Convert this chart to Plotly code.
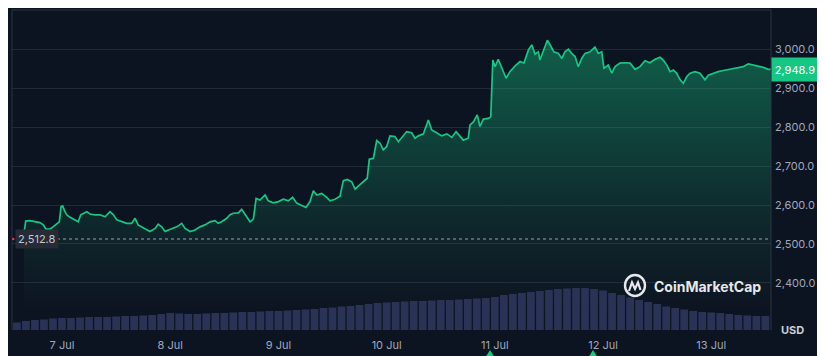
import pandas as pd
import plotly.graph_objects as go

BASE = pd.Timestamp("2025-07-07")

# ---- data ----
price_hours = [-8.4,-8.05,-7.1,-6.0,-4.9,-4.15,-3.55,-2.65,-1.95,-1.2,-0.6,-0.2,0.15,0.5,1.05,1.6,2.15,2.9,3.6,4.15,
               4.7,5.5,6.2,7.3,8.45,9.55,10.65,11.4,12.15,13.25,14.35,15.45,16.2,16.9,17.7,18.8,19.5,20.65,21.35,22.1,
               22.85,23.6,24.35,25.45,26.55,27.3,28.4,29.5,30.6,31.7,32.85,33.95,34.65,35.4,36.55,37.25,38.0,39.1,39.85,40.6,
               41.7,42.45,43.05,43.9,45.05,45.75,46.85,48.0,49.1,50.2,51.15,52.05,53.15,54.1,55.0,55.75,56.5,57.6,58.7,59.45,
               60.55,61.65,62.4,63.3,64.25,65.0,65.7,66.85,67.7,68.15,69.05,69.8,70.55,71.25,72.0,72.75,73.85,74.6,75.35,76.45,
               77.55,78.3,79.05,80.15,81.25,82.0,83.1,84.2,85.35,86.45,87.4,88.3,89.0,90.1,90.5,91.25,92.1,92.7,93.45,94.55,
               95.1,95.55,96.05,96.75,97.55,98.5,99.35,100.5,101.6,102.45,103.45,104.2,104.9,105.65,106.0,106.75,107.65,108.4,109.1,110.1,
               110.85,111.55,112.3,113.05,113.8,114.5,115.25,116.0,117.1,118.2,118.95,119.7,120.2,121.15,121.95,122.65,123.75,124.85,126.0,127.1,
               128.2,129.3,130.4,131.55,132.65,133.35,134.15,134.85,135.6,136.35,137.1,137.8,138.55,139.3,140.4,141.5,142.6,143.35,144.45,145.55,
               146.7,148.15,149.65,151.1,152.2,153.35,154.45,155.55,156.65,157.25]
price_usd = [2530,2559,2560,2557,2555,2549,2538,2538,2544,2551,2557,2596,2598,2587,2575,2570,2566,2562,2557,2575,
             2579,2583,2577,2575,2575,2570,2583,2575,2562,2557,2553,2553,2566,2549,2544,2536,2532,2540,2551,2544,
             2532,2536,2540,2544,2553,2540,2532,2536,2544,2549,2557,2560,2553,2557,2566,2575,2579,2580,2589,2575,
             2557,2564,2617,2613,2626,2611,2606,2609,2615,2611,2620,2605,2600,2594,2609,2637,2626,2630,2620,2611,
             2615,2623,2663,2666,2660,2641,2649,2660,2669,2718,2720,2766,2759,2742,2750,2778,2776,2763,2774,2789,
             2786,2772,2778,2783,2819,2793,2786,2778,2783,2774,2789,2776,2767,2772,2806,2814,2832,2802,2821,2823,
             2827,2973,2956,2975,2952,2926,2943,2958,2969,2965,2999,3012,2988,2994,2973,2997,3024,3009,2994,2990,
             2977,2994,3001,2990,2982,2956,2977,2990,2994,3006,2990,2994,2952,2960,2939,2956,2965,2966,2965,2949,
             2956,2971,2966,2975,2980,2973,2960,2943,2947,2939,2922,2913,2930,2939,2943,2939,2922,2934,2939,2943,
             2946,2949,2954,2956,2963,2960,2958,2954,2949,2948.9]

vol_hours = [-10,-8,-6,-4,-2,0,2,4,6,8,10,12,14,16,18,20,22,24,26,28,30,32,34,36,38,40,42,44,46,48,
             50,52,54,56,58,60,62,64,66,68,70,72,74,76,78,80,82,84,86,88,90,92,94,96,98,100,102,104,106,108,
             110,112,114,116,118,120,122,124,126,128,130,132,134,136,138,140,142,144,146,148,150,152,154,156]
vol_bn = [7.5,9,10,10.5,11.5,12,12,12.5,13,13,
          13,13.5,14,14,14.5,15,16,17,16.5,16,
          16,16.5,17,17,17.5,18,18,18.5,19,19,
          19.5,20,20.5,21,22,22.5,23.5,24,25,26,
          27,27.5,28,28.5,29,29,29.5,30,30,30.5,
          31,31.5,32,33,35,36,37,38,39,40,
          41,41.5,42,42,41,39.5,37,35,32.5,30,
          28,26,23.5,22,20.5,19,18,17.5,17,16,
          15,14.5,14,14]

tick_days = ["2025-07-07","2025-07-08","2025-07-09","2025-07-10","2025-07-11","2025-07-12","2025-07-13"]
tick_day_labels = ["7 Jul","8 Jul","9 Jul","10 Jul","11 Jul","12 Jul","13 Jul"]
price_ticks = [2400,2500,2600,2700,2800,2900,3000]
open_price = 2512.8
last_price = 2948.9

assert len(price_hours) == len(price_usd), (len(price_hours), len(price_usd))
assert len(vol_hours) == len(vol_bn)

t_price = BASE + pd.to_timedelta(price_hours, unit="h")
t_vol = BASE + pd.to_timedelta(vol_hours, unit="h")

BG = "#0d1421"
GREEN = "#16c784"
GRID = "#232a37"
FRAME = "#2e3543"
TXT = "#a1a7bb"

# page offset (default body margin of the html page)
OFF = 8
W, H = 825 - OFF, 356 - OFF
# plot area in page pixels
L, R, T, B = 12, 771, 10, 330
def px(x):
    return (x - L) / (R - L)
def py(y):
    return (B - y) / (B - T)

fig = go.Figure()

fig.add_trace(go.Bar(
    x=t_vol, y=vol_bn, yaxis="y2",
    marker=dict(color="#2a3256", line=dict(width=0)),
    width=2 * 3600 * 1000 * 0.86,
    hoverinfo="skip", showlegend=False,
))

fig.add_trace(go.Scatter(
    x=t_price, y=price_usd, mode="lines",
    line=dict(color=GREEN, width=1.7),
    fill="tozeroy",
    fillgradient=dict(type="vertical", start=2330, stop=3030,
                      colorscale=[[0, "rgba(22,199,132,0.0)"], [0.35, "rgba(22,199,132,0.12)"], [1, "rgba(22,199,132,0.42)"]]),
    showlegend=False,
))

x_start = BASE + pd.Timedelta(hours=-11.09)
x_end = BASE + pd.Timedelta(hours=157.25)

shapes = [
    dict(type="line", xref="paper", yref="paper", x0=0, x1=1, y0=1, y1=1, line=dict(color=FRAME, width=1)),
    dict(type="line", xref="paper", yref="paper", x0=0, x1=0, y0=0, y1=1, line=dict(color=FRAME, width=1)),
    dict(type="line", xref="paper", yref="paper", x0=1, x1=1, y0=0, y1=1, line=dict(color=FRAME, width=1)),
    dict(type="line", xref="paper", yref="y", x0=px(57), x1=1, y0=open_price, y1=open_price,
         line=dict(color="#9aa1ad", width=1, dash="dot")),
    dict(type="circle", xref="paper", yref="paper", x0=px(12), x1=px(14.5), y0=py(240.3), y1=py(237.8),
         fillcolor="#ea3943", line=dict(width=0)),
    # logo
    dict(type="circle", xref="paper", yref="paper", x0=px(625), x1=px(645), y0=py(296), y1=py(275),
         line=dict(color="#e6e8ec", width=2.4)),
    dict(type="path", xref="paper", yref="paper",
         path=f"M {px(629)},{py(291)} L {px(632)},{py(282.5)} L {px(635)},{py(289)} L {px(638)},{py(282.5)} L {px(640.5)},{py(290)}",
         line=dict(color="#e6e8ec", width=2.2)),
]
for tri_x in [490, 593]:
    shapes.append(dict(type="path", xref="paper", yref="paper",
                       path=f"M {px(tri_x-5)},{py(358)} L {px(tri_x)},{py(350)} L {px(tri_x+5)},{py(358)} Z",
                       fillcolor=GREEN, line=dict(width=0)))

annotations = [
    dict(xref="paper", yref="y", x=px(15), y=open_price, xanchor="left", yanchor="middle",
         text="2,512.8", showarrow=False, bgcolor="#262b36", borderpad=2,
         font=dict(family="Inter", size=11, color="#c3c8d2")),
    dict(xref="paper", yref="y", x=1, y=last_price, xanchor="left", yanchor="middle",
         text="2,948.9", showarrow=False, bgcolor=GREEN, borderpad=3, width=40, height=17,
         font=dict(family="Inter", size=11, color="#ffffff")),
    dict(xref="paper", yref="paper", x=px(793), y=py(330), xanchor="center", yanchor="middle",
         text="<b>USD</b>", showarrow=False,
         font=dict(family="Inter", size=11, color="#c9ced8")),
    dict(xref="paper", yref="paper", x=px(652), y=py(286.5), xanchor="left", yanchor="middle",
         text="<b>CoinMarketCap</b>", showarrow=False,
         font=dict(family="Inter", size=14, color="#e6e8ec")),
]

fig.update_layout(
    width=W, height=H,
    margin=dict(l=L - OFF, r=825 - R, t=T - OFF, b=356 - B, pad=0),
    paper_bgcolor=BG, plot_bgcolor=BG,
    bargap=0.15,
    showlegend=False,
    xaxis=dict(type="date", range=[x_start, x_end], showgrid=False, zeroline=False, showline=False,
               tickvals=pd.to_datetime(tick_days), ticktext=tick_day_labels, ticks="",
               ticklabelstandoff=7,
               tickfont=dict(family="Inter", size=11, color=TXT)),
    yaxis=dict(side="right", range=[2278.8, 3101.6], tickvals=price_ticks,
               ticktext=[f"{v:,.1f}" for v in price_ticks],
               showgrid=True, gridcolor=GRID, gridwidth=1, zeroline=False, showline=False, ticks="",
               ticklabelstandoff=3,
               tickfont=dict(family="Inter", size=11, color=TXT)),
    yaxis2=dict(overlaying="y", range=[0, 320], visible=False),
    shapes=shapes,
    annotations=annotations,
)

fig.write_html("out.html")
